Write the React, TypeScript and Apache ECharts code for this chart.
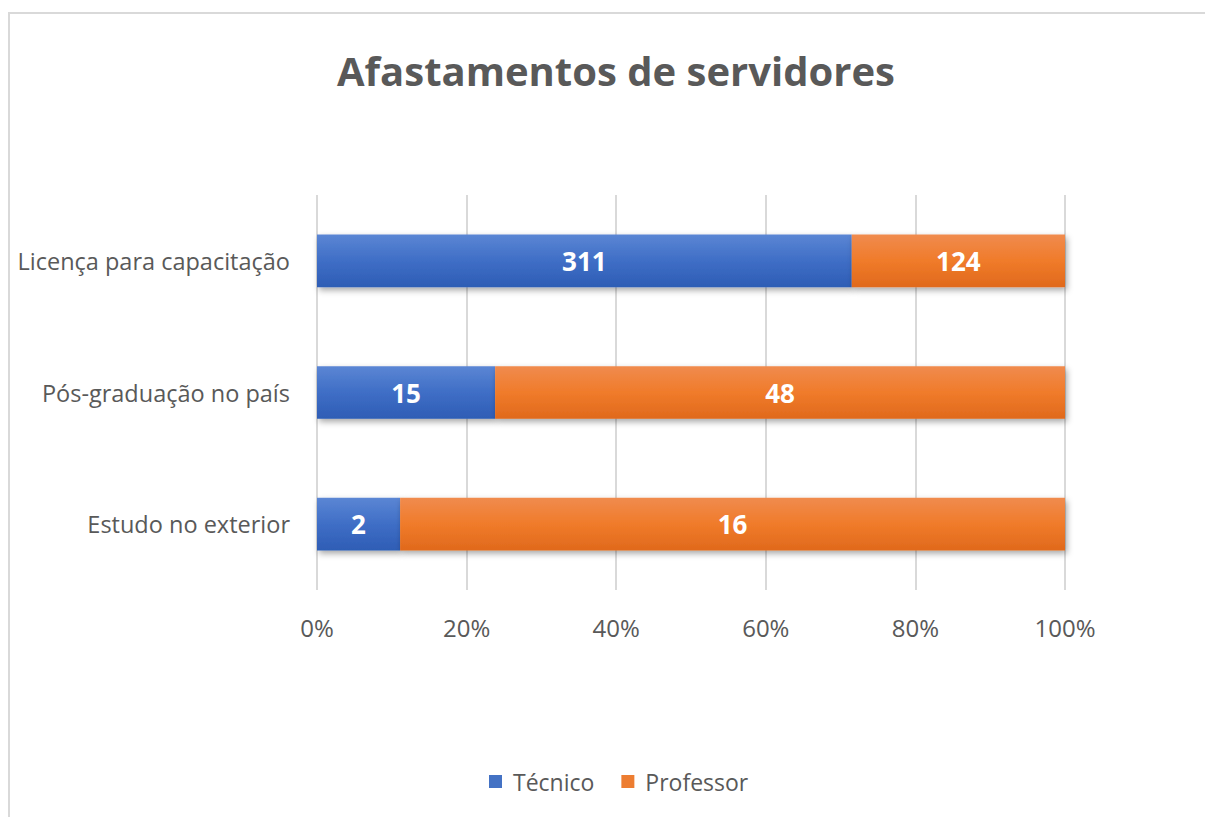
import React, { useEffect, useRef } from "react";
import * as echarts from "echarts";

const categories = ["Estudo no exterior", "Pós-graduação no país", "Licença para capacitação"];
const tecnico = [2, 15, 311];
const professor = [16, 48, 124];
const seriesNames = ["Técnico", "Professor"];
const xTicks = [0, 20, 40, 60, 80, 100];

const font = "'Open Sans', 'Noto Sans', sans-serif";

function grad(top: string, mid: string, bottom: string) {
  return new echarts.graphic.LinearGradient(0, 0, 0, 1, [
    { offset: 0, color: top },
    { offset: 0.5, color: mid },
    { offset: 1, color: bottom },
  ]);
}

export default function App() {
  const ref = useRef<HTMLDivElement>(null);
  useEffect(() => {
    if (!ref.current) return;
    const chart = echarts.init(ref.current, null, { renderer: "svg" });
    const totals = tecnico.map((t, i) => t + professor[i]);
    const pct = (arr: number[]) => arr.map((v, i) => ({ value: (v / totals[i]) * 100, raw: v }));
    const labelCfg = {
      show: true,
      position: "inside",
      color: "#ffffff",
      fontFamily: font,
      fontWeight: "bold",
      fontSize: 26,
      formatter: (p: any) => String(p.data.raw),
    };
    const shadow = {
      shadowColor: "rgba(0,0,0,0.35)",
      shadowBlur: 6,
      shadowOffsetX: 2,
      shadowOffsetY: 3,
    };
    chart.setOption({
      animation: false,
      backgroundColor: "#ffffff",
      title: {
        text: "Afastamentos de servidores",
        left: 332,
        top: 45,
        textStyle: { fontFamily: font, fontSize: 40, fontWeight: "bold", color: "#595959" },
      },
      graphic: [
        {
          type: "rect",
          shape: { x: 9, y: 13, width: 1220, height: 830 },
          style: { fill: "none", stroke: "#d9d9d9", lineWidth: 2 },
          silent: true,
        },
      ],
      legend: {
        bottom: 19,
        left: 484,
        itemWidth: 13,
        itemHeight: 13,
        itemGap: 27,
        icon: "rect",
        textStyle: { fontFamily: font, fontSize: 23, color: "#595959", padding: [0, 0, 0, 6] },
        data: [
          { name: seriesNames[0], itemStyle: { color: "#4472C4" } },
          { name: seriesNames[1], itemStyle: { color: "#ED7D31" } },
        ],
      },
      grid: { left: 317, right: 140, top: 195, bottom: 227, containLabel: false },
      xAxis: {
        type: "value",
        min: 0,
        max: 100,
        interval: 20,
        axisLine: { show: false },
        axisTick: { show: false },
        splitLine: { lineStyle: { color: "#d9d9d9", width: 2 } },
        axisLabel: {
          margin: 25,
          color: "#595959",
          fontFamily: font,
          fontSize: 24,
          formatter: (v: number) => (xTicks.includes(v) ? v + "%" : ""),
        },
      },
      yAxis: {
        type: "category",
        data: categories,
        axisLine: { show: false },
        axisTick: { show: false },
        axisLabel: { margin: 27, color: "#595959", fontFamily: font, fontSize: 23.5 },
      },
      series: [
        {
          name: seriesNames[0],
          type: "bar",
          stack: "total",
          barCategoryGap: "60%",
          data: pct(tecnico),
          label: labelCfg,
          itemStyle: { color: grad("#5b86d4", "#3f6ec6", "#2e5db5"), ...shadow },
        },
        {
          name: seriesNames[1],
          type: "bar",
          stack: "total",
          barCategoryGap: "60%",
          data: pct(professor),
          label: labelCfg,
          itemStyle: { color: grad("#f08b4e", "#f07b2a", "#e0691c"), ...shadow },
        },
      ],
    });
    return () => chart.dispose();
  }, []);
  return (
    <div
      ref={ref}
      style={{ position: "fixed", left: 0, top: 0, width: 1205, height: 817 }}
    />
  );
}
